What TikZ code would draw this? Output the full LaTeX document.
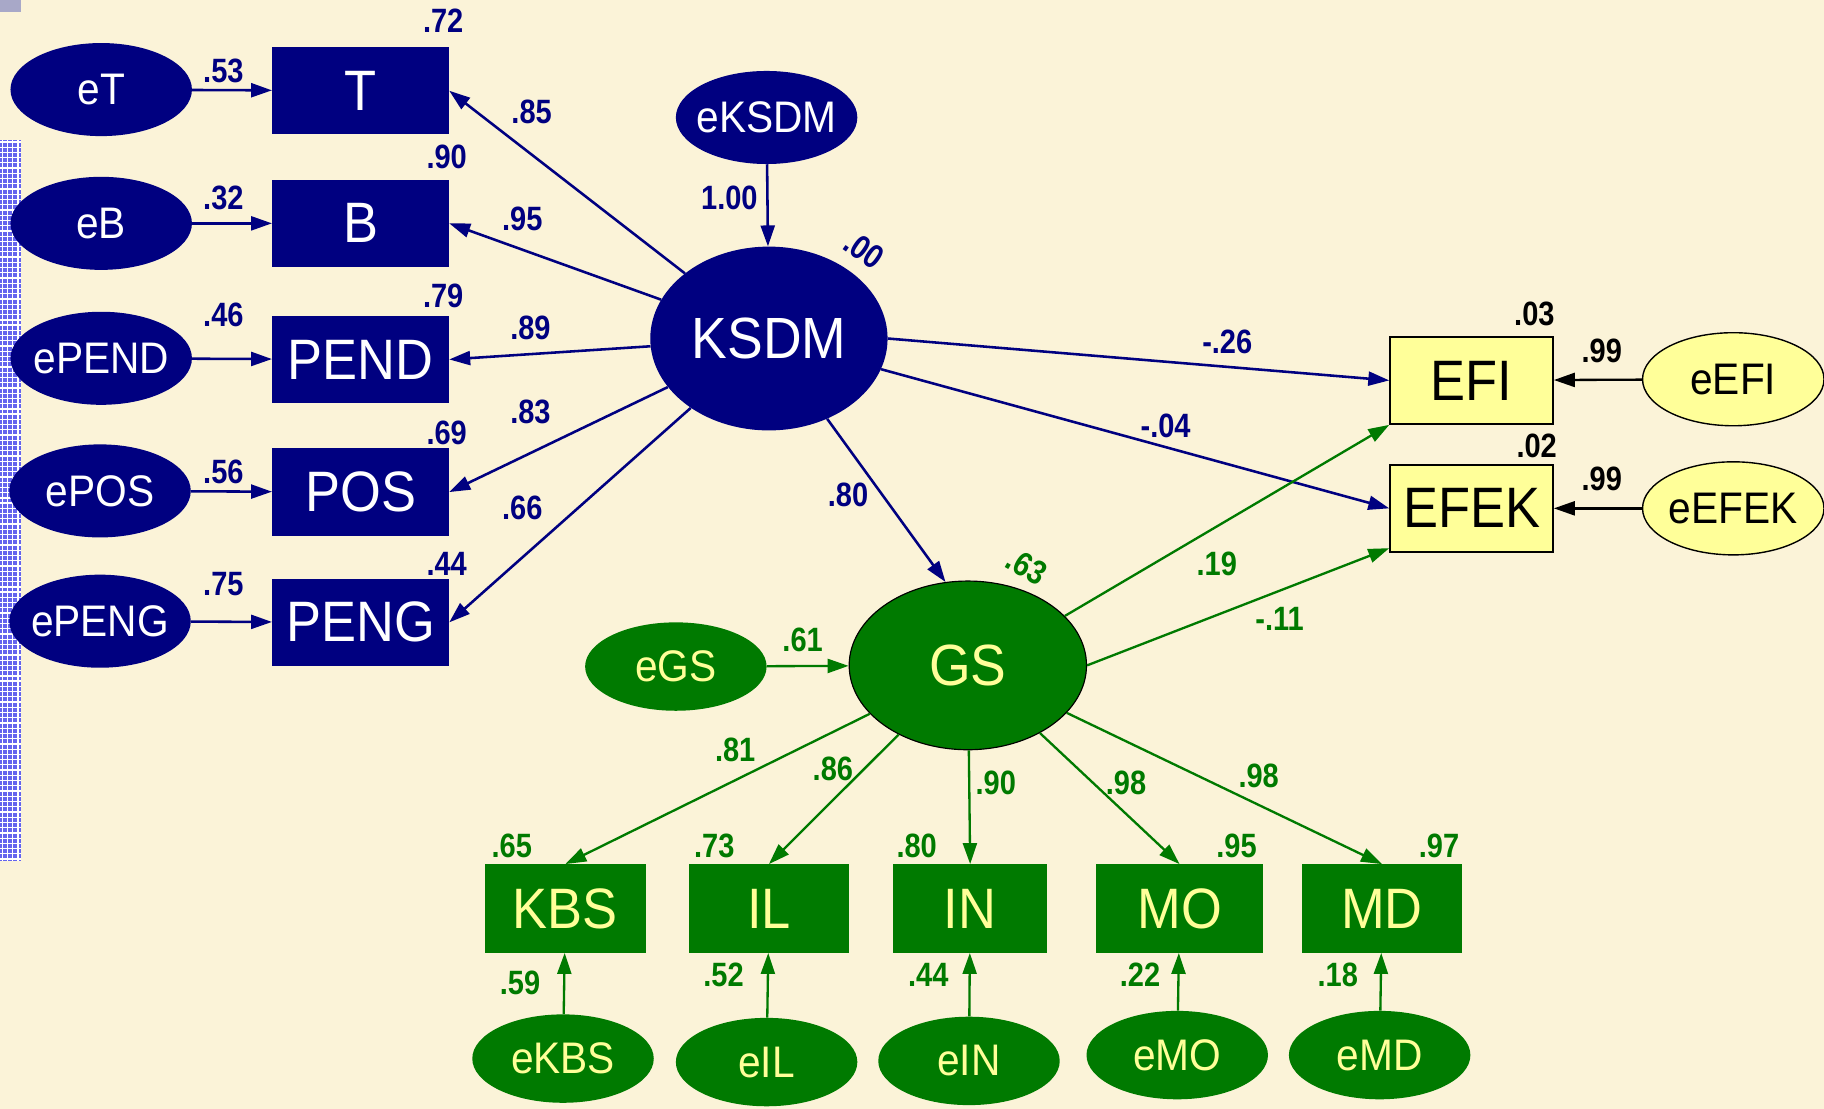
\documentclass[tikz,border=0pt]{standalone}
\usepackage{fontspec}
\setmainfont{Liberation Sans}
\newfontfamily\boxfont[FakeStretch=0.92]{Liberation Sans}
\newfontfamily\numfont[FakeStretch=0.86]{Liberation Sans}
\usetikzlibrary{arrows.meta,shapes.geometric}

\definecolor{paper}{RGB}{251,243,216}
\definecolor{navy}{RGB}{0,0,128}
\definecolor{leaf}{RGB}{0,122,0}
\definecolor{pale}{RGB}{255,255,153}
\definecolor{stripblue}{RGB}{100,100,238}
\definecolor{tabgrey}{RGB}{168,168,200}

\begin{document}
\begin{tikzpicture}[x=1pt,y=-1pt,
  obs/.style={rectangle,inner sep=0pt,minimum width=152pt,minimum height=75pt,
    font=\boxfont\fontsize{49}{51}\selectfont},
  lat/.style={ellipse,inner sep=0pt,minimum width=204pt,minimum height=158pt,
    font=\boxfont\fontsize{50}{52}\selectfont},
  err/.style={ellipse,inner xsep=-30pt,inner ysep=0pt,minimum width=156pt,minimum height=80pt,
    font=\boxfont\fontsize{38}{40}\selectfont},
  num/.style={inner sep=0pt,font=\numfont\bfseries\fontsize{29}{30}\selectfont},
  tip/.style={-{Triangle[length=18pt,width=12pt]}},
  navylink/.style={tip,draw=navy,fill=navy,line width=2.2pt},
  leaflink/.style={tip,draw=leaf,fill=leaf,line width=2pt},
  blacklink/.style={tip,draw=black,fill=black,line width=2pt},
  navyobs/.style={obs,fill=navy,text=white},
  leafobs/.style={obs,fill=leaf,text=pale,minimum width=138pt,minimum height=76pt},
  paleobs/.style={obs,fill=pale,draw=black,line width=1.5pt,text=black,
    minimum width=140pt},
  navyerr/.style={err,fill=navy,text=white},
  leaferr/.style={err,fill=leaf,text=pale,minimum height=76pt},
  paleerr/.style={err,fill=pale,draw=black,line width=1.2pt,text=black}]

% page and side decorations
\fill[paper] (0,0) rectangle (1568,953);
\useasboundingbox (0,0) rectangle (1568,953);
\fill[tabgrey] (0,0) rectangle (18,10);
\fill[stripblue] (0,120) rectangle (18,740);
\foreach \v in {2,6.5,...,18} \draw[white,line width=1.1pt] (\v,120) -- (\v,740);
\foreach \h in {122,126.5,...,740} \draw[white,line width=1.1pt] (0,\h) -- (18,\h);

% indicators of KSDM
\node[navyobs] (T)    at (310,78)  {T};
\node[navyobs] (B)    at (310,192) {B};
\node[navyobs] (PEND) at (310,309) {PEND};
\node[navyobs] (POS)  at (310,423) {POS};
\node[navyobs] (PENG) at (310,535) {PENG};

\node[navyerr] (eT)    at (87,77)  {eT};
\node[navyerr] (eB)    at (87,192) {eB};
\node[navyerr] (ePEND) at (87,308) {ePEND};
\node[navyerr] (ePOS)  at (86,422) {ePOS};
\node[navyerr] (ePENG) at (86,534) {ePENG};

% latent variables
\node[lat,fill=navy,text=white] (KSDM) at (661,291) {KSDM};
\node[navyerr] (eKSDM) at (659,101) {eKSDM};
\node[lat,fill=leaf,text=pale,draw=black,line width=1pt,minimum height=145pt] (GS) at (832,572) {GS};
\node[leaferr] (eGS) at (581,573) {eGS};

% outcomes
\node[paleobs] (EFI)  at (1265,327) {EFI};
\node[paleobs] (EFEK) at (1265,437) {EFEK};
\node[paleerr] (eEFI)  at (1490,326) {eEFI};
\node[paleerr] (eEFEK) at (1490,437) {eEFEK};

% indicators of GS
\node[leafobs] (KBS) at (486,781)  {KBS};
\node[leafobs] (IL)  at (661,781)  {IL};
\node[leafobs,minimum width=132pt] (IN)  at (834,781)  {IN};
\node[leafobs,minimum width=144pt] (MO)  at (1014,781) {MO};
\node[leafobs] (MD)  at (1188,781) {MD};

\node[leaferr] (eKBS) at (484,910) {eKBS};
\node[leaferr] (eIL)  at (659,913) {eIL};
\node[leaferr] (eIN)  at (833,912) {eIN};
\node[leaferr] (eMO)  at (1012,907) {eMO};
\node[leaferr] (eMD)  at (1186,907) {eMD};

% paths
\draw[navylink] (eT) -- (T);
\draw[navylink] (eB) -- (B);
\draw[navylink] (ePEND) -- (PEND);
\draw[navylink] (ePOS) -- (POS);
\draw[navylink] (ePENG) -- (PENG);
\draw[navylink] (KSDM) -- (T.east);
\draw[navylink] (KSDM) -- (B.east);
\draw[navylink] (KSDM) -- (PEND.east);
\draw[navylink] (KSDM) -- (POS.east);
\draw[navylink] (KSDM) -- (PENG.east);
\draw[navylink] (eKSDM) -- (KSDM);
\draw[navylink] (KSDM.east) -- (EFI.west);
\draw[navylink] (KSDM) -- (EFEK.west);
\draw[navylink] (KSDM) -- (GS.105);

\draw[blacklink] (eEFI) -- (EFI);
\draw[blacklink] (eEFEK) -- (EFEK);

\draw[leaflink] (eGS) -- (GS);
\draw[leaflink] (GS.27) -- (EFI.south west);
\draw[leaflink] (GS.east) -- ([yshift=4pt]EFEK.south west);
\draw[leaflink] (GS) -- (KBS.north);
\draw[leaflink] (GS) -- (IL.north);
\draw[leaflink] (GS) -- (IN.north);
\draw[leaflink] (GS) -- (MO.north);
\draw[leaflink] (GS) -- (MD.north);
\draw[leaflink] (eKBS) -- (KBS);
\draw[leaflink] (eIL) -- (IL);
\draw[leaflink] (eIN) -- (IN);
\draw[leaflink] (eMO) -- (MO);
\draw[leaflink] (eMD) -- (MD);

% estimates, KSDM block
\begin{scope}[every node/.style={num,text=navy}]
\node (r72) at (381,18)  {.72};
\node (w53) at (192,61)  {.53};
\node (k85) at (457,96)  {.85};
\node (r90) at (384,135) {.90};
\node (w32) at (192,170) {.32};
\node (k95) at (449,188) {.95};
\node (r79) at (381,254) {.79};
\node (w46) at (192,271) {.46};
\node (k89) at (456,282) {.89};
\node (r69) at (384,372) {.69};
\node (w56) at (192,406) {.56};
\node (k83) at (456,354) {.83};
\node (r44) at (384,485) {.44};
\node (w75) at (192,502) {.75};
\node (k66) at (449,437) {.66};
\node (w100) at (627,170) {1.00};
\node[rotate=-35] (rKSDM) at (743,215) {.00};
\node (pEFI) at (1055,294) {-.26};
\node (pEFEK) at (1002,366) {-.04};
\node (pGS) at (729,425) {.80};
\end{scope}

% estimates, outcomes
\begin{scope}[every node/.style={num,text=black}]
\node (r03) at (1319,270) {.03};
\node (r02) at (1321,383) {.02};
\node (w99a) at (1377,302) {.99};
\node (w99b) at (1377,412) {.99};
\end{scope}

% estimates, GS block
\begin{scope}[every node/.style={num,text=leaf}]
\node[rotate=-30] (rGS) at (883,487) {.63};
\node (w61) at (690,550) {.61};
\node (g19) at (1046,485) {.19};
\node (g11) at (1100,532) {-.11};
\node (g81) at (632,645) {.81};
\node (g86) at (716,661) {.86};
\node (g90) at (856,673) {.90};
\node (g98a) at (968,673) {.98};
\node (g98b) at (1082,667) {.98};
\node (r65) at (440,727) {.65};
\node (r73) at (614,727) {.73};
\node (r80) at (788,727) {.80};
\node (r95) at (1063,727) {.95};
\node (r97) at (1237,727) {.97};
\node (w59) at (447,845) {.59};
\node (w52) at (622,838) {.52};
\node (w44) at (798,838) {.44};
\node (w22) at (980,838) {.22};
\node (w18) at (1150,838) {.18};
\end{scope}
\end{tikzpicture}
\end{document}
